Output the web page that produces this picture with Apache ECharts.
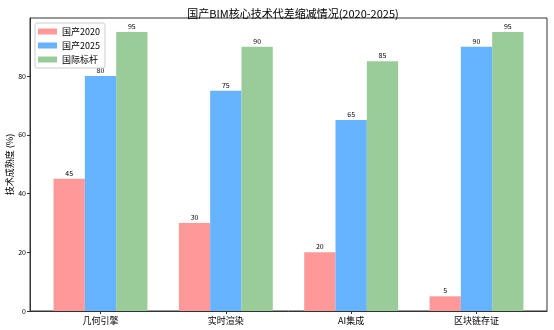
<!DOCTYPE html>
<html><head><meta charset="utf-8">
<script src="https://cdn.jsdelivr.net/npm/echarts@6/dist/echarts.min.js"></script>
<style>html,body{margin:0;padding:0;background:#fff}#c{width:554px;height:330px}</style>
</head><body><div id="c"></div>
<script>
const categories = ['几何引擎', '实时渲染', 'AI集成', '区块链存证'];
const seriesNames = ['国产2020', '国产2025', '国际标杆'];
const v2020 = [45, 30, 20, 5];
const v2025 = [80, 75, 65, 90];
const vBench = [95, 90, 85, 95];
const yTicks = [0, 20, 40, 60, 80];
const colors = ['#ff9999', '#66b3ff', '#99cc99'];
const FONT = "'Noto Sans CJK SC','DejaVu Sans',sans-serif";

const chart = echarts.init(document.getElementById('c'));
const catIdx = categories.map((_, i) => i);
function mk(name, vals, color) {
  return {
    name, type: 'bar', barWidth: 31.3, barGap: '0%',
    itemStyle: { color },
    data: vals.map((v, i) => [i, v]),
    label: { show: true, position: 'top', distance: 2, color: '#000', fontSize: 7, fontFamily: FONT,
      formatter: p => p.value[1] }
  };
}
chart.setOption({
  animation: false,
  color: colors,
  title: { text: '国产BIM核心技术代差缩减情况(2020-2025)', left: 288, top: 3, textAlign: 'center',
    textStyle: { fontSize: 11, fontWeight: 'normal', color: '#000', fontFamily: FONT } },
  legend: {
    left: 35, top: 23, orient: 'vertical', itemWidth: 19, itemHeight: 6, itemGap: 5,
    padding: [4, 5, 4, 3], borderColor: '#ccc', borderWidth: 1, borderRadius: 2,
    textStyle: { fontSize: 9, color: '#000', fontFamily: FONT },
    data: seriesNames.map(n => ({ name: n, icon: 'rect' }))
  },
  grid: { left: 30, right: 7, top: 18, bottom: 19, show: true, borderColor: '#333', borderWidth: 1,
    outerBoundsMode: 'none', containLabel: false },
  xAxis: {
    type: 'value', min: -0.5625, max: 3.5625,
    splitLine: { show: false },
    axisLine: { lineStyle: { color: '#333' } },
    axisTick: { show: true, length: 3, customValues: catIdx, lineStyle: { color: '#333' } },
    axisLabel: { customValues: catIdx, formatter: v => categories[Math.round(v)] || '',
      fontSize: 9, color: '#000', margin: 5, fontFamily: FONT }
  },
  yAxis: {
    type: 'value', min: 0, max: 99.75,
    name: '技术成熟度 (%)', nameLocation: 'middle', nameGap: 20, nameMoveOverlap: false,
    nameTextStyle: { fontSize: 9, color: '#000', fontFamily: FONT, verticalAlign: 'middle' },
    splitLine: { show: false },
    axisLine: { show: true, onZero: false, lineStyle: { color: '#333' } },
    axisTick: { show: true, length: 3, customValues: yTicks, lineStyle: { color: '#333' } },
    axisLabel: { customValues: yTicks, fontSize: 7, color: '#000', margin: 4, fontFamily: FONT }
  },
  series: [mk(seriesNames[0], v2020, colors[0]), mk(seriesNames[1], v2025, colors[1]), mk(seriesNames[2], vBench, colors[2])]
});
</script></body></html>
